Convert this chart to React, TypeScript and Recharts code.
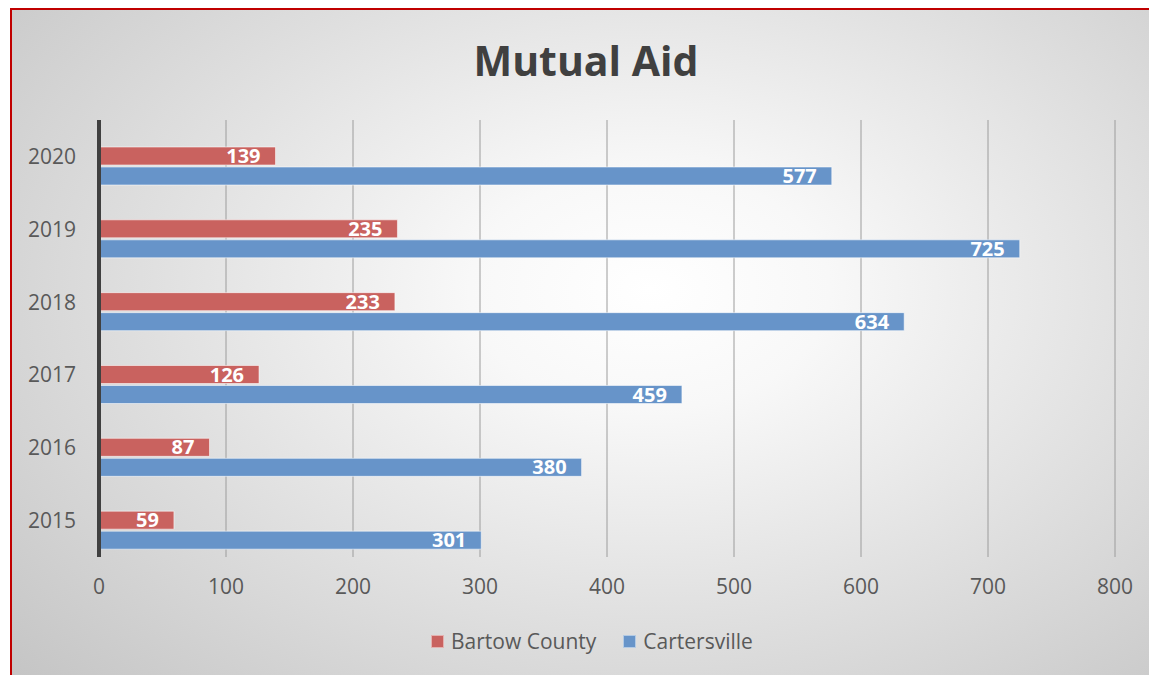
import React from "react";
import {
  BarChart,
  Bar,
  XAxis,
  YAxis,
  CartesianGrid,
  LabelList,
  Legend,
} from "recharts";

const years = ["2015", "2016", "2017", "2018", "2019", "2020"];
const bartow = [59, 87, 126, 233, 235, 139];
const cartersville = [301, 380, 459, 634, 725, 577];
// empty third slot, Excel leaves room for it above the red bar
const spacer = [null, null, null, null, null, null];
const xTicks = [0, 100, 200, 300, 400, 500, 600, 700, 800];

const data = years.map((year, i) => ({
  year,
  spacer: spacer[i],
  bartow: bartow[i],
  cartersville: cartersville[i],
}));

const FONT = "'Open Sans', 'DejaVu Sans', sans-serif";
const RED = "#C9625F";
const BLUE = "#6794C9";

function LegendContent(props: any) {
  const items = (props.payload || []).filter((p: any) => p.type !== "none");
  return (
    <div style={{ display: "flex", alignItems: "center", fontFamily: FONT, fontSize: 21, lineHeight: "28px", color: "#595959" }}>
      {items.map((p: any) => (
        <div key={p.value} style={{ display: "flex", alignItems: "center", marginRight: 27 }}>
          <span
            style={{
              display: "inline-block",
              width: 11,
              height: 11,
              background: p.color,
              border: "1px solid rgba(255,255,255,0.5)",
              marginRight: 7,
            }}
          />
          <span>{p.value}</span>
        </div>
      ))}
    </div>
  );
}

export default function App() {
  return (
    <div style={{ position: "fixed", left: 0, top: 0, width: 1149, height: 675, overflow: "hidden", background: "#fff" }}>
      <div
        style={{
          position: "absolute",
          left: 10,
          top: 8,
          width: 1160,
          height: 700,
          borderTop: "2px solid #C00000",
          borderLeft: "2px solid #C00000",
          background:
            "radial-gradient(ellipse farthest-corner at 55% 40%, #ffffff 0%, #f8f8f8 20%, #e0e0e0 55%, #c2c2c2 100%)",
        }}
      />
      <div
        style={{
          position: "absolute",
          left: 0,
          width: 1172,
          top: 34,
          lineHeight: "52px",
          textAlign: "center",
          fontFamily: FONT,
          fontWeight: 700,
          fontSize: 41,
          color: "#404040",
        }}
      >
        Mutual Aid
      </div>
      <div style={{ position: "absolute", left: 0, top: 0 }}>
        <BarChart
          width={1149}
          height={675}
          data={data}
          layout="vertical"
          margin={{ top: 120, right: 34, bottom: 50, left: 0 }}
          barSize={18}
          barGap={2}
        >
          <CartesianGrid horizontal={false} stroke="#9c9c9c" strokeWidth={1} />
          <XAxis
            type="number"
            domain={[0, 800]}
            ticks={xTicks}
            axisLine={false}
            tickLine={false}
            tickSize={0}
            tickMargin={22}
            height={40}
            tick={{ fill: "#595959", fontSize: 21, fontFamily: FONT }}
          />
          <YAxis
            type="category"
            dataKey="year"
            reversed
            width={99}
            tickLine={false}
            tickSize={0}
            tickMargin={23}
            axisLine={{ stroke: "#404040", strokeWidth: 4 }}
            tick={{ fill: "#595959", fontSize: 21, fontFamily: FONT }}
          />
          <Bar dataKey="spacer" fill="transparent" legendType="none" isAnimationActive={false} />
          <Bar
            dataKey="bartow"
            name="Bartow County"
            fill={RED}
            stroke="#ffffff"
            strokeOpacity={0.55}
            strokeWidth={1}
            isAnimationActive={false}
          >
            <LabelList
              dataKey="bartow"
              position="insideRight"
              offset={15}
              fill="#ffffff"
              style={{ fontFamily: FONT, fontWeight: 700, fontSize: 20 }}
            />
          </Bar>
          <Bar
            dataKey="cartersville"
            name="Cartersville"
            fill={BLUE}
            stroke="#ffffff"
            strokeOpacity={0.55}
            strokeWidth={1}
            isAnimationActive={false}
          >
            <LabelList
              dataKey="cartersville"
              position="insideRight"
              offset={15}
              fill="#ffffff"
              style={{ fontFamily: FONT, fontWeight: 700, fontSize: 20 }}
            />
          </Bar>
          <Legend
            verticalAlign="bottom"
            content={<LegendContent />}
            wrapperStyle={{ left: 431, top: 627, width: 400 }}
          />
        </BarChart>
      </div>
    </div>
  );
}
